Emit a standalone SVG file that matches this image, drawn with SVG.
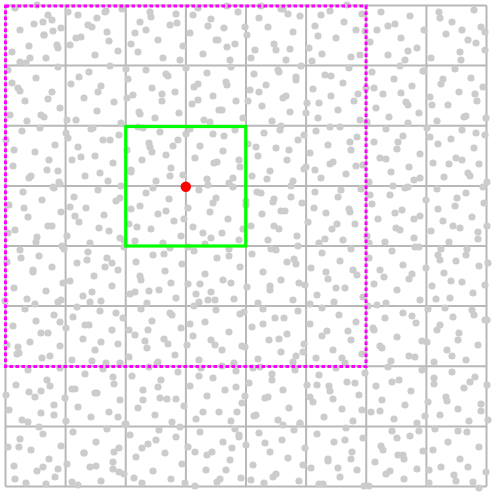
<svg xmlns="http://www.w3.org/2000/svg" width="494" height="494" viewBox="0 0 494 494">
<style>
.grid{stroke:#b8b8b8;stroke-width:2;fill:none}
.pts{stroke:#cccccc;stroke-width:7.2;stroke-linecap:round;fill:none}
.range{stroke:#ff00ff;stroke-width:3;stroke-dasharray:3.5 2.5;fill:none}
.cell{stroke:#00ff00;stroke-width:3.2;fill:none}
</style>
<rect width="494" height="494" fill="#ffffff"/>
<g id="grid">
<path class="grid" d="M5.5 5.5V486.5M65.6 5.5V486.5M125.75 5.5V486.5M185.9 5.5V486.5M246 5.5V486.5M306.1 5.5V486.5M366.25 5.5V486.5M426.4 5.5V486.5M486.5 5.5V486.5M5.5 5.5H486.5M5.5 65.6H486.5M5.5 125.75H486.5M5.5 185.9H486.5M5.5 246H486.5M5.5 306.1H486.5M5.5 366.25H486.5M5.5 426.4H486.5M5.5 486.5H486.5"/>
</g>
<g id="points">
<path class="pts" d="M15 8h0M34 24h0M44 35h0M53 31h0M30 58h0M46 58h0M12 52h0M20 62h0M29 46h0M43 22h0M48 15h0M52 20h0M61 28h0M68 12h0M70 45h0M81 37h0M78 15h0M92 27h0M95 55h0M107 32h0M105 12h0M118 51h0M122 9h0M131 44h0M140 22h0M146 30h0M150 12h0M158 40h0M163 58h0M170 25h0M176 14h0M183 46h0M190 33h0M198 8h0M203 54h0M211 19h0M216 40h0M224 28h0M230 60h0M238 12h0M247 35h0M255 50h0M259 18h0M268 27h0M274 44h0M281 9h0M286 60h0M293 32h0M300 16h0M309 48h0M315 26h0M322 54h0M330 11h0M336 38h0M344 22h0M351 57h0M356 30h0M362 14h0M370 42h0M377 30h0M381 12h0M388 55h0M395 24h0M401 38h0M410 16h0M417 48h0M424 30h0M431 58h0M439 12h0M446 34h0M452 22h0M460 52h0M468 40h0M474 10h0M481 27h0M485 50h0M58 48h0M135 33h0M227 47h0M318 36h0M405 60h0M462 30h0"/>
<path class="pts" d="M8 70h0M18 88h0M25 101h0M36 78h0M41 115h0M52 92h0M58 67h0M60 108h0M71 84h0M76 120h0M84 98h0M89 72h0M97 111h0M101 86h0M110 66h0M114 102h0M121 123h0M128 79h0M133 95h0M139 112h0M146 70h0M152 88h0M155 118h0M162 101h0M168 76h0M175 92h0M179 113h0M186 68h0M192 104h0M198 84h0M204 120h0M207 73h0M213 96h0M219 110h0M226 82h0M231 67h0M236 101h0M243 118h0M250 90h0M254 74h0M262 106h0M266 85h0M272 121h0M278 70h0M283 98h0M290 112h0M296 80h0M301 66h0M307 103h0M313 89h0M318 118h0M325 75h0M331 96h0M338 110h0M343 83h0M349 68h0M354 101h0M360 120h0M366 88h0M372 72h0M376 108h0M383 94h0M389 117h0M394 79h0M400 66h0M406 102h0M412 86h0M419 113h0M424 71h0M430 97h0M437 121h0M441 84h0M448 105h0M455 69h0M459 92h0M466 116h0M471 78h0M477 101h0M483 87h0M486 118h0M20 91h0M140 114h0M279 72h0M408 105h0M44 117h0M227 85h0"/>
<path class="pts" d="M6 140h0M13 166h0M22 131h0M29 178h0M35 152h0M40 128h0M47 170h0M55 145h0M59 182h0M66 133h0M72 160h0M78 147h0M85 176h0M91 129h0M95 156h0M103 140h0M108 181h0M113 163h0M119 135h0M127 150h0M131 172h0M138 127h0M142 160h0M149 143h0M156 181h0M160 132h0M166 155h0M171 168h0M178 140h0M183 175h0M190 129h0M195 158h0M200 146h0M207 179h0M213 134h0M217 162h0M223 151h0M229 183h0M235 130h0M240 167h0M248 144h0M252 176h0M258 156h0M264 133h0M270 171h0M276 148h0M281 126h0M287 160h0M293 181h0M298 140h0M304 169h0M310 153h0M316 131h0M321 178h0M328 145h0M333 162h0M340 127h0M346 174h0M351 150h0M357 137h0M363 165h0M369 182h0M374 142h0M380 158h0M386 129h0M391 172h0M397 149h0M403 136h0M409 167h0M414 180h0M420 154h0M427 128h0M433 163h0M438 144h0M444 177h0M451 139h0M456 158h0M462 130h0M468 173h0M474 148h0M479 164h0M485 135h0M487 182h0M150 147h0M152 152h0M330 164h0M60 184h0M470 176h0"/>
<path class="pts" d="M9 205h0M15 230h0M23 192h0M28 217h0M36 242h0M42 200h0M48 226h0M54 188h0M61 212h0M67 236h0M74 197h0M79 222h0M86 208h0M90 243h0M98 190h0M104 215h0M109 231h0M116 201h0M121 186h0M129 224h0M135 241h0M140 206h0M146 193h0M151 229h0M158 214h0M163 243h0M169 199h0M174 221h0M181 236h0M188 208h0M193 227h0M199 190h0M205 244h0M210 212h0M216 198h0M222 233h0M228 219h0M233 187h0M239 240h0M246 205h0M251 226h0M257 192h0M262 214h0M268 240h0M274 199h0M279 229h0M285 211h0M291 186h0M297 236h0M302 203h0M308 222h0M315 192h0M319 243h0M326 213h0M332 229h0M338 197h0M343 240h0M349 209h0M355 224h0M361 189h0M367 236h0M372 204h0M378 219h0M385 242h0M390 195h0M396 228h0M402 210h0M408 187h0M414 238h0M420 216h0M426 200h0M431 231h0M437 189h0M443 221h0M449 242h0M455 206h0M460 228h0M466 193h0M472 217h0M478 239h0M484 203h0M487 226h0M273 202h0M120 238h0M350 212h0M211 238h0"/>
<path class="pts" d="M7 262h0M14 288h0M20 250h0M27 299h0M33 272h0M39 256h0M46 291h0M52 267h0M58 302h0M64 249h0M70 281h0M77 263h0M83 296h0M88 252h0M94 276h0M101 301h0M107 258h0M112 286h0M118 270h0M124 247h0M130 294h0M136 262h0M141 280h0M147 303h0M153 255h0M159 290h0M165 271h0M170 248h0M176 298h0M182 264h0M188 284h0M194 251h0M199 302h0M205 274h0M211 292h0M217 258h0M223 280h0M229 249h0M234 299h0M240 267h0M247 287h0M252 254h0M258 303h0M263 272h0M270 290h0M276 250h0M281 280h0M287 262h0M293 300h0M298 246h0M305 285h0M311 268h0M317 295h0M322 253h0M328 279h0M334 302h0M340 261h0M345 288h0M351 249h0M357 275h0M363 297h0M369 258h0M374 284h0M380 270h0M386 303h0M392 251h0M397 290h0M403 265h0M409 279h0M415 247h0M420 300h0M426 268h0M432 286h0M438 255h0M444 273h0M450 298h0M456 261h0M462 282h0M467 249h0M473 293h0M479 266h0M485 285h0M296 264h0M92 292h0M440 260h0M200 284h0M208 300h0"/>
<path class="pts" transform="translate(493 0) scale(-1 1)" d="M8 320h0M15 345h0M21 310h0M27 360h0M34 333h0M40 317h0M46 350h0M53 325h0M59 362h0M65 309h0M71 341h0M77 323h0M84 356h0M90 313h0M96 337h0M102 361h0M108 318h0M113 346h0M119 330h0M125 306h0M131 354h0M137 322h0M142 340h0M148 363h0M154 315h0M160 350h0M166 331h0M171 308h0M177 358h0M183 324h0M189 344h0M195 311h0M200 362h0M206 334h0M212 352h0M218 318h0M224 340h0M230 309h0M235 359h0M241 327h0M248 347h0M253 314h0M259 363h0M264 332h0M271 350h0M277 310h0M282 340h0M288 322h0M294 360h0M299 306h0M306 345h0M312 328h0M318 355h0M323 313h0M329 339h0M335 362h0M341 321h0M346 348h0M352 309h0M358 335h0M364 357h0M370 318h0M375 344h0M381 330h0M387 363h0M393 311h0M398 350h0M404 325h0M410 339h0M416 307h0M421 360h0M427 328h0M433 346h0M439 315h0M445 333h0M451 358h0M457 321h0M463 342h0M468 309h0M474 353h0M480 326h0M486 345h0M56 330h0M300 336h0M190 352h0M420 317h0"/>
<path class="pts" transform="translate(0 790) scale(1 -1)" d="M9 380h0M16 405h0M22 370h0M28 420h0M35 393h0M41 377h0M47 410h0M54 385h0M60 422h0M66 369h0M72 401h0M78 383h0M85 416h0M91 373h0M97 397h0M103 421h0M109 378h0M114 406h0M120 390h0M126 366h0M132 414h0M138 382h0M143 400h0M149 423h0M155 375h0M161 410h0M167 391h0M172 368h0M178 418h0M184 384h0M190 404h0M196 371h0M201 422h0M207 394h0M213 412h0M219 378h0M225 400h0M231 369h0M236 419h0M242 387h0M249 407h0M254 374h0M260 423h0M265 392h0M272 410h0M278 370h0M283 400h0M289 382h0M295 420h0M300 366h0M307 405h0M313 388h0M319 415h0M324 373h0M330 399h0M336 422h0M342 381h0M347 408h0M353 369h0M359 395h0M365 417h0M371 378h0M376 404h0M382 390h0M388 423h0M394 371h0M399 410h0M405 385h0M411 399h0M417 367h0M422 420h0M428 388h0M434 406h0M440 375h0M446 393h0M452 418h0M458 381h0M464 402h0M469 369h0M475 413h0M481 386h0M487 405h0M160 392h0M329 404h0M245 394h0M50 404h0"/>
<path class="pts" transform="translate(493 913) scale(-1 -1)" d="M7 441h0M14 466h0M20 431h0M26 481h0M33 454h0M39 438h0M45 471h0M52 446h0M58 484h0M64 430h0M70 462h0M76 444h0M83 477h0M89 434h0M95 458h0M101 482h0M107 439h0M112 467h0M118 451h0M124 427h0M130 475h0M136 443h0M141 461h0M147 485h0M153 436h0M159 471h0M165 452h0M170 429h0M176 479h0M182 445h0M188 465h0M194 432h0M199 483h0M205 455h0M211 473h0M217 439h0M223 461h0M229 430h0M234 480h0M240 448h0M247 468h0M252 435h0M258 484h0M263 453h0M270 471h0M276 431h0M281 461h0M287 443h0M293 481h0M298 427h0M305 466h0M311 449h0M317 476h0M322 434h0M328 460h0M334 483h0M340 442h0M345 469h0M351 430h0M357 456h0M363 478h0M369 439h0M374 465h0M380 451h0M386 484h0M392 432h0M397 471h0M403 446h0M409 460h0M415 428h0M420 481h0M426 449h0M432 467h0M438 436h0M444 454h0M450 479h0M456 442h0M462 463h0M467 430h0M473 474h0M479 447h0M485 466h0M90 458h0M254 476h0M380 444h0M60 463h0"/>
<path class="pts" d="M237 412h0M58 171h0M401 93h0M129 330h0M466 255h0M19 447h0M312 61h0M184 219h0M75 389h0M350 142h0M273 477h0M5 301h0M440 18h0M162 94h0M296 356h0M88 25h0M419 431h0M214 163h0M33 270h0M377 305h0M251 58h0M142 448h0M483 187h0M67 120h0M325 239h0M199 376h0M12 83h0M458 340h0M280 130h0M105 267h0M390 471h0M227 6h0M54 415h0M341 190h0M172 315h0M475 94h0M24 208h0M300 423h0M138 52h0M412 274h0M263 324h0M96 466h0M365 31h0M186 134h0M447 401h0M41 333h0M319 103h0M231 283h0M120 198h0M468 467h0M79 77h0M355 383h0M207 455h0M14 150h0M395 213h0M288 14h0M157 364h0M430 137h0M62 246h0M246 201h0M101 342h0M374 88h0M222 110h0M487 320h0M46 484h0M336 288h0M177 23h0M415 357h0M268 397h0M131 170h0M29 392h0M453 226h0M306 167h0M90 302h0M383 450h0M215 345h0M149 291h0M476 43h0M8 233h0M338 468h0M256 147h0M118 417h0M423 71h0M70 207h0M294 259h0M194 87h0M462 160h0M37 5h0M348 331h0M239 435h0M110 140h0M405 188h0M276 50h0M164 254h0M50 356h0M434 378h0M321 15h0M203 233h0M84 453h0M369 243h0M143 400h0M481 411h0M27 121h0M310 304h0M253 368h0M126 69h0M398 142h0M185 483h0M63 283h0M445 308h0M286 96h0M218 40h0M99 228h0M362 410h0M170 176h0M15 479h0M419 247h0M331 76h0M244 312h0M134 478h0M476 133h0M57 45h0M291 197h0M203 412h0M81 157h0M388 26h0M233 178h0M151 17h0M457 198h0M39 427h0M345 440h0M271 249h0M113 377h0M429 470h0M17 354h0M304 135h0M196 294h0M72 482h0M382 348h0M259 92h0M166 211h0M488 263h0M48 99h0M337 224h0M226 470h0M124 240h0M412 316h0M283 425h0M93 128h0M360 55h0M190 324h0M443 79h0M21 258h0M317 385h0M245 27h0M145 341h0M470 382h0M60 322h0M299 283h0M210 122h0M106 11h0M393 186h0M267 179h0M156 440h0M438 209h0M31 176h0M328 459h0M236 387h0M116 313h0M451 281h0M76 38h0M353 270h0M180 60h0M6 395h0M404 459h0M279 339h0M137 227h0M485 32h0M52 226h0M314 208h0M220 479h0M95 393h0M367 122h0M173 146h0M425 416h0M43 467h0M290 49h0M229 256h0M127 98h0M400 230h0M265 443h0M158 387h0M464 117h0M20 30h0M342 358h0M208 185h0M87 260h0M380 411h0M248 101h0M114 452h0M436 299h0M68 138h0M303 465h0M193 15h0M41 391h0M356 166h0M270 286h0M168 344h0M479 488h0M26 63h0M330 127h0M215 300h0M100 173h0M408 51h0M281 211h0M140 276h0M458 431h0M58 469h0M322 336h0M243 229h0M120 363h0M392 382h0M261 6h0M180 427h0M449 164h0M35 304h0M310 397h0M198 100h0M75 216h0M370 195h0M232 448h0M109 41h0M427 342h0M289 150h0M153 188h0M488 420h0M10 115h0M347 5h0M256 415h0M135 292h0M414 219h0M296 77h0M176 399h0M461 60h0M49 160h0M326 272h0M239 160h0M92 361h0M384 277h0M208 26h0M119 472h0M432 105h0M65 398h0M272 374h0M188 247h0M478 232h0M18 347h0M351 459h0M261 193h0M143 128h0M397 438h0M284 318h0M166 74h0M452 356h0M44 35h0M315 170h0M222 366h0M98 92h0M373 328h0M251 480h0M131 209h0M420 178h0M61 300h0M306 113h0M195 452h0M85 325h0M364 486h0M235 44h0M112 263h0M441 249h0M28 422h0M333 399h0M213 203h0M97 18h0M386 159h0M274 226h0M148 330h0M474 315h0M53 187h0M319 484h0M242 346h0M125 424h0M408 123h0M283 9h0M171 283h0M456 481h0M37 237h0M358 94h0M224 136h0"/>
</g>
<g id="range">
<rect class="range" x="5.5" y="6" width="360.5" height="360.5"/>
</g>
<g id="cell">
<rect class="cell" x="125.75" y="126.5" width="120" height="119.5"/>
</g>
<g id="query">
<circle cx="185.8" cy="186.8" r="5.2" fill="#ff0000"/>
</g>
</svg>
